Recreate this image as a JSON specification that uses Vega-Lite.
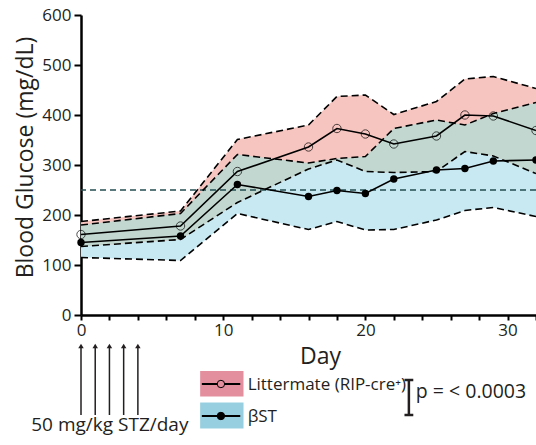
{
  "$schema": "https://vega.github.io/schema/vega-lite/v6.json",
  "width": 455,
  "height": 300,
  "autosize": "none",
  "padding": {"left": 81, "top": 15, "right": 0, "bottom": 130},
  "background": "white",
  "resolve": {"axis": {"x": "independent"}},
  "config": {
    "view": {"stroke": null},
    "font": "Open Sans",
    "axis": {
      "domainColor": "#000000",
      "domainWidth": 2.5,
      "tickColor": "#000000",
      "tickWidth": 2,
      "labelFont": "Open Sans",
      "labelFontSize": 17,
      "labelColor": "#231f20",
      "titleFont": "Open Sans",
      "titleFontWeight": "normal",
      "titleColor": "#231f20",
      "grid": false,
      "labelOverlap": false
    }
  },
  "datasets": {
    "glucose": [
      {"day": 0, "lm_mean": 161, "lm_lo": 137, "lm_hi": 187, "bst_mean": 145, "bst_lo": 115, "bst_hi": 180},
      {"day": 7, "lm_mean": 178, "lm_lo": 151, "lm_hi": 208, "bst_mean": 158, "bst_lo": 109, "bst_hi": 203},
      {"day": 11, "lm_mean": 287, "lm_lo": 225, "lm_hi": 351, "bst_mean": 261, "bst_lo": 203, "bst_hi": 321},
      {"day": 16, "lm_mean": 336, "lm_lo": 292, "lm_hi": 380, "bst_mean": 237, "bst_lo": 171, "bst_hi": 304},
      {"day": 18, "lm_mean": 373, "lm_lo": 310, "lm_hi": 437, "bst_mean": 249, "bst_lo": 187, "bst_hi": 313},
      {"day": 20, "lm_mean": 362, "lm_lo": 287, "lm_hi": 440, "bst_mean": 243, "bst_lo": 170, "bst_hi": 317},
      {"day": 22, "lm_mean": 342, "lm_lo": 285, "lm_hi": 401, "bst_mean": 272, "bst_lo": 171, "bst_hi": 373},
      {"day": 25, "lm_mean": 358, "lm_lo": 287, "lm_hi": 427, "bst_mean": 290, "bst_lo": 190, "bst_hi": 390},
      {"day": 27, "lm_mean": 400, "lm_lo": 327, "lm_hi": 472, "bst_mean": 293, "bst_lo": 209, "bst_hi": 380},
      {"day": 29, "lm_mean": 398, "lm_lo": 318, "lm_hi": 477, "bst_mean": 308, "bst_lo": 215, "bst_hi": 403},
      {"day": 32, "lm_mean": 369, "lm_lo": 283, "lm_hi": 453, "bst_mean": 310, "bst_lo": 197, "bst_hi": 425}
    ],
    "arrows": [
      {"x": 0, "y": -62, "y2": -200},
      {"x": 1, "y": -62, "y2": -200},
      {"x": 2, "y": -62, "y2": -200},
      {"x": 3, "y": -62, "y2": -200},
      {"x": 4, "y": -62, "y2": -200}
    ],
    "legendBoxes": [
      {"series": "Littermate", "x": 8.38, "x2": 11.43, "y": -112, "y2": -163},
      {"series": "bST", "x": 8.38, "x2": 11.43, "y": -175, "y2": -227}
    ],
    "legendLines": [
      {"series": "Littermate", "x": 8.5, "x2": 11.2, "y": -138, "mx": 9.84},
      {"series": "bST", "x": 8.5, "x2": 11.2, "y": -202, "mx": 9.84}
    ],
    "labels": [
      {"text": "Littermate (RIP-cre⁺)", "x": 11.72, "y": -139, "size": 17},
      {"text": "βST", "x": 11.72, "y": -203, "size": 17},
      {"text": "p = < 0.0003", "x": 23.55, "y": -154, "size": 19.5},
      {"text": "50 mg/kg STZ/day", "x": -3.5, "y": -220, "size": 19}
    ],
    "pbar": [
      {"x": 22.75, "x2": 23.37, "y": -130, "y2": -200}
    ]
  },
  "layer": [
    {
      "data": {"name": "glucose"},
      "mark": {"type": "area", "color": "#c8e9f2", "opacity": 1},
      "encoding": {
        "x": {"field": "day", "type": "quantitative", "scale": {"domain": [0, 32], "nice": false},
          "axis": {"orient": "bottom", "values": [0, 10, 20, 30], "tickSize": 5, "labelPadding": 2, "title": "Day", "titleFontSize": 23, "titleX": 239, "titleY": 48, "titleBaseline": "alphabetic", "titleAnchor": null, "titleAlign": "center", "labelFlush": false}},
        "y": {"field": "bst_lo", "type": "quantitative", "scale": {"domain": [0, 600], "nice": false},
          "axis": {"values": [0,100,200,300,400,500,600], "tickSize": 7, "labelPadding": 3, "title": "Blood Glucose (mg/dL)", "titleFontSize": 23, "titleX": -49, "titleY": 142, "titleBaseline": "alphabetic", "titleAlign": "center", "titleAngle": -90}},
        "y2": {"field": "bst_hi"}
      }
    },
    {
      "data": {"name": "glucose"},
      "mark": {"type": "area", "color": "#f7c5c0", "opacity": 1},
      "encoding": {
        "x": {"field": "day", "type": "quantitative", "scale": {"domain": [0, 32], "nice": false},
          "axis": {"orient": "bottom", "values": [2,4,6,8,12,14,16,18,22,24,26,28,32], "labels": false, "domain": false, "title": null, "tickSize": 5}},
        "y": {"field": "lm_lo", "type": "quantitative", "scale": {"domain": [0, 600], "nice": false}},
        "y2": {"field": "lm_hi"}
      }
    },
    {
      "data": {"name": "glucose"},
      "mark": {"type": "area", "color": "#c1d7cf", "opacity": 1},
      "encoding": {
        "x": {"field": "day", "type": "quantitative", "scale": {"domain": [0, 32], "nice": false}, "axis": null},
        "y": {"field": "lm_lo", "type": "quantitative", "scale": {"domain": [0, 600], "nice": false}},
        "y2": {"field": "bst_hi"}
      }
    },
    {
      "data": {"values": [{"ref": 250}]},
      "mark": {"type": "rule", "color": "#234e52", "strokeWidth": 1.6, "strokeDash": [6, 4]},
      "encoding": {
        "y": {"field": "ref", "type": "quantitative", "scale": {"domain": [0, 600], "nice": false}}
      }
    },
    {
      "data": {"name": "glucose"},
      "transform": [{"fold": ["lm_lo", "lm_hi", "bst_lo", "bst_hi"], "as": ["bound", "val"]}],
      "mark": {"type": "line", "color": "#000000", "strokeWidth": 1.6, "strokeDash": [7, 4]},
      "encoding": {
        "x": {"field": "day", "type": "quantitative", "scale": {"domain": [0, 32], "nice": false}, "axis": null},
        "y": {"field": "val", "type": "quantitative", "scale": {"domain": [0, 600], "nice": false}},
        "detail": {"field": "bound"}
      }
    },
    {
      "data": {"name": "glucose"},
      "mark": {"type": "line", "color": "#000000", "strokeWidth": 1.6},
      "encoding": {
        "x": {"field": "day", "type": "quantitative", "scale": {"domain": [0, 32], "nice": false}, "axis": null},
        "y": {"field": "lm_mean", "type": "quantitative", "scale": {"domain": [0, 600], "nice": false}}
      }
    },
    {
      "data": {"name": "glucose"},
      "mark": {"type": "point", "shape": "circle", "filled": false, "color": "#000000", "strokeWidth": 1, "size": 70},
      "encoding": {
        "x": {"field": "day", "type": "quantitative", "scale": {"domain": [0, 32], "nice": false}, "axis": null},
        "y": {"field": "lm_mean", "type": "quantitative", "scale": {"domain": [0, 600], "nice": false}}
      }
    },
    {
      "data": {"name": "glucose"},
      "mark": {"type": "line", "color": "#000000", "strokeWidth": 1.6},
      "encoding": {
        "x": {"field": "day", "type": "quantitative", "scale": {"domain": [0, 32], "nice": false}, "axis": null},
        "y": {"field": "bst_mean", "type": "quantitative", "scale": {"domain": [0, 600], "nice": false}}
      }
    },
    {
      "data": {"name": "glucose"},
      "mark": {"type": "point", "shape": "circle", "filled": true, "color": "#000000", "opacity": 1, "size": 55},
      "encoding": {
        "x": {"field": "day", "type": "quantitative", "scale": {"domain": [0, 32], "nice": false}, "axis": null},
        "y": {"field": "bst_mean", "type": "quantitative", "scale": {"domain": [0, 600], "nice": false}}
      }
    },
    {
      "data": {"name": "arrows"},
      "mark": {"type": "rule", "color": "#231f20", "strokeWidth": 1.5},
      "encoding": {
        "x": {"field": "x", "type": "quantitative", "scale": {"domain": [0, 32], "nice": false}, "axis": null},
        "y": {"field": "y", "type": "quantitative", "scale": {"domain": [0, 600], "nice": false}},
        "y2": {"field": "y2"}
      }
    },
    {
      "data": {"name": "arrows"},
      "mark": {"type": "point", "shape": "triangle-up", "filled": true, "color": "#231f20", "opacity": 1, "size": 30},
      "encoding": {
        "x": {"field": "x", "type": "quantitative", "scale": {"domain": [0, 32], "nice": false}, "axis": null},
        "y": {"field": "y", "type": "quantitative", "scale": {"domain": [0, 600], "nice": false}}
      }
    },
    {
      "data": {"name": "legendBoxes"},
      "mark": {"type": "rect"},
      "encoding": {
        "x": {"field": "x", "type": "quantitative", "scale": {"domain": [0, 32], "nice": false}, "axis": null},
        "x2": {"field": "x2"},
        "y": {"field": "y", "type": "quantitative", "scale": {"domain": [0, 600], "nice": false}},
        "y2": {"field": "y2"},
        "color": {"field": "series", "type": "nominal", "scale": {"domain": ["Littermate", "bST"], "range": ["#e48f9e", "#97cfe0"]}, "legend": null}
      }
    },
    {
      "data": {"name": "legendLines"},
      "mark": {"type": "rule", "color": "#000000", "strokeWidth": 1.8},
      "encoding": {
        "x": {"field": "x", "type": "quantitative", "scale": {"domain": [0, 32], "nice": false}, "axis": null},
        "x2": {"field": "x2"},
        "y": {"field": "y", "type": "quantitative", "scale": {"domain": [0, 600], "nice": false}}
      }
    },
    {
      "data": {"name": "legendLines"},
      "mark": {"type": "point", "shape": "circle", "strokeWidth": 1, "opacity": 1, "size": 55},
      "encoding": {
        "x": {"field": "mx", "type": "quantitative", "scale": {"domain": [0, 32], "nice": false}, "axis": null},
        "y": {"field": "y", "type": "quantitative", "scale": {"domain": [0, 600], "nice": false}},
        "fill": {"field": "series", "type": "nominal", "scale": {"domain": ["Littermate", "bST"], "range": ["#e48f9e", "#000000"]}, "legend": null},
        "stroke": {"value": "#000000"}
      }
    },
    {
      "data": {"name": "pbar"},
      "mark": {"type": "rule", "color": "#231f20", "strokeWidth": 2.5},
      "encoding": {
        "x": {"datum": 23.06, "type": "quantitative", "scale": {"domain": [0, 32], "nice": false}, "axis": null},
        "y": {"field": "y", "type": "quantitative", "scale": {"domain": [0, 600], "nice": false}},
        "y2": {"field": "y2"}
      }
    },
    {
      "data": {"name": "pbar"},
      "mark": {"type": "rule", "color": "#231f20", "strokeWidth": 2.5},
      "encoding": {
        "x": {"field": "x", "type": "quantitative", "scale": {"domain": [0, 32], "nice": false}, "axis": null},
        "x2": {"field": "x2"},
        "y": {"field": "y", "type": "quantitative", "scale": {"domain": [0, 600], "nice": false}}
      }
    },
    {
      "data": {"name": "pbar"},
      "mark": {"type": "rule", "color": "#231f20", "strokeWidth": 2.5},
      "encoding": {
        "x": {"field": "x", "type": "quantitative", "scale": {"domain": [0, 32], "nice": false}, "axis": null},
        "x2": {"field": "x2"},
        "y": {"field": "y2", "type": "quantitative", "scale": {"domain": [0, 600], "nice": false}}
      }
    },
    {
      "data": {"name": "labels"},
      "mark": {"type": "text", "align": "left", "baseline": "middle", "font": "Open Sans", "color": "#231f20"},
      "encoding": {
        "x": {"field": "x", "type": "quantitative", "scale": {"domain": [0, 32], "nice": false}, "axis": null},
        "y": {"field": "y", "type": "quantitative", "scale": {"domain": [0, 600], "nice": false}},
        "text": {"field": "text"},
        "size": {"field": "size", "type": "quantitative", "scale": null, "legend": null}
      }
    }
  ]
}
